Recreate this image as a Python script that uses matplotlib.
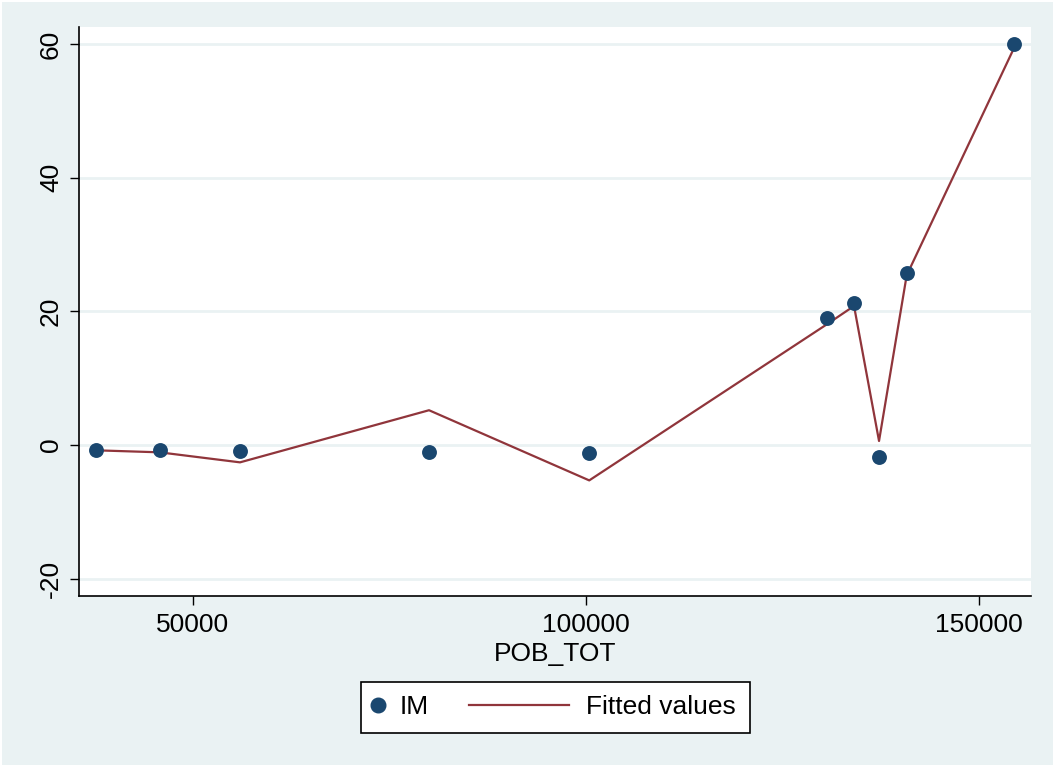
import matplotlib
matplotlib.use("Agg")
import matplotlib.pyplot as plt
from matplotlib.patches import Rectangle
from matplotlib.lines import Line2D
from matplotlib.legend_handler import HandlerBase

plt.rcParams["font.family"] = ["Liberation Sans", "DejaVu Sans"]

# data: population vs IM, with fitted values
pob_tot = [37700, 45760, 55980, 80020, 100400, 130680, 134080, 137260, 140780, 154430]
im = [-0.75, -0.75, -0.85, -1.05, -1.15, 19.05, 21.3, -1.75, 25.7, 59.95]
fitted = [-0.8, -1.1, -2.6, 5.2, -5.3, 18.1, 20.8, 0.6, 25.4, 59.4]

x_ticks = [50000, 100000, 150000]
y_ticks = [-20, 0, 20, 40, 60]

bg = "#EAF2F3"
navy = "#1A476F"
maroon = "#90353B"
fs = 19


class LongLineHandler(HandlerBase):
    # legend key line that reaches back past its narrow handle box
    def create_artists(self, legend, orig_handle, xdescent, ydescent,
                       width, height, fontsize, trans):
        y = height / 2 - ydescent
        x1 = width - xdescent - 10.4
        line = Line2D([x1 - 72, x1], [y, y], color=orig_handle.get_color(),
                      lw=orig_handle.get_linewidth())
        line.set_transform(trans)
        return [line]


class LeftMarkerHandler(HandlerBase):
    # single marker sitting near the left of its handle box
    def create_artists(self, legend, orig_handle, xdescent, ydescent,
                       width, height, fontsize, trans):
        y = height / 2 - ydescent
        dot = Line2D([-xdescent + 2.5], [y], marker="o", linestyle="none",
                     color=orig_handle.get_color(),
                     markersize=orig_handle.get_markersize())
        dot.set_transform(trans)
        return [dot]


fig = plt.figure(figsize=(10.55, 7.67), dpi=100)
fig.patch.set_facecolor("white")
fig.patches.append(Rectangle((2 / 1055, 2 / 767), 1 - 4 / 1055, 1 - 4 / 767,
                             transform=fig.transFigure, facecolor=bg,
                             edgecolor="none", zorder=-10))

ax = fig.add_axes([79 / 1055, 1 - 596 / 767, (1031 - 79) / 1055, (596 - 27) / 767])
ax.set_facecolor("white")

# gridlines in the background colour
for yv in y_ticks:
    ax.axhline(yv, color=bg, lw=2, zorder=0)

ax.plot(pob_tot, fitted, color=maroon, lw=1.6, zorder=2)
ax.scatter(pob_tot, im, s=115, color=navy, zorder=3, linewidths=0)

ax.set_xlim(35500, 156590)
ax.set_ylim(-22.6, 62.55)
ax.set_xticks(x_ticks)
ax.set_yticks(y_ticks)
ax.set_xticklabels([str(v) for v in x_ticks])
ax.set_yticklabels([str(v) for v in y_ticks], rotation=90, va="center")
ax.tick_params(axis="both", labelsize=fs, length=6.5, width=1, color="black")
ax.tick_params(axis="x", pad=6)
ax.tick_params(axis="y", pad=5)

for side in ["top", "right"]:
    ax.spines[side].set_visible(False)
for side in ["left", "bottom"]:
    ax.spines[side].set_linewidth(1.2)

ax.set_xlabel("POB_TOT", fontsize=fs, labelpad=3)

h_im = Line2D([], [], marker="o", linestyle="none", color=navy, markersize=10.5)
h_fit = Line2D([], [], color=maroon, lw=1.6)
leg = fig.legend([h_im, h_fit], ["IM", "Fitted values"], loc="center",
                 bbox_to_anchor=(555.5 / 1055, 1 - 707.5 / 767), ncol=2,
                 fontsize=fs, frameon=True, fancybox=False, edgecolor="black",
                 facecolor="white", framealpha=1,
                 handlelength=0.85, handletextpad=0.1, columnspacing=5.0,
                 borderpad=0.53,
                 handler_map={h_fit: LongLineHandler(),
                              h_im: LeftMarkerHandler()})
leg.get_frame().set_linewidth(1.2)

fig.savefig("out.png", dpi=100, facecolor=fig.get_facecolor())
